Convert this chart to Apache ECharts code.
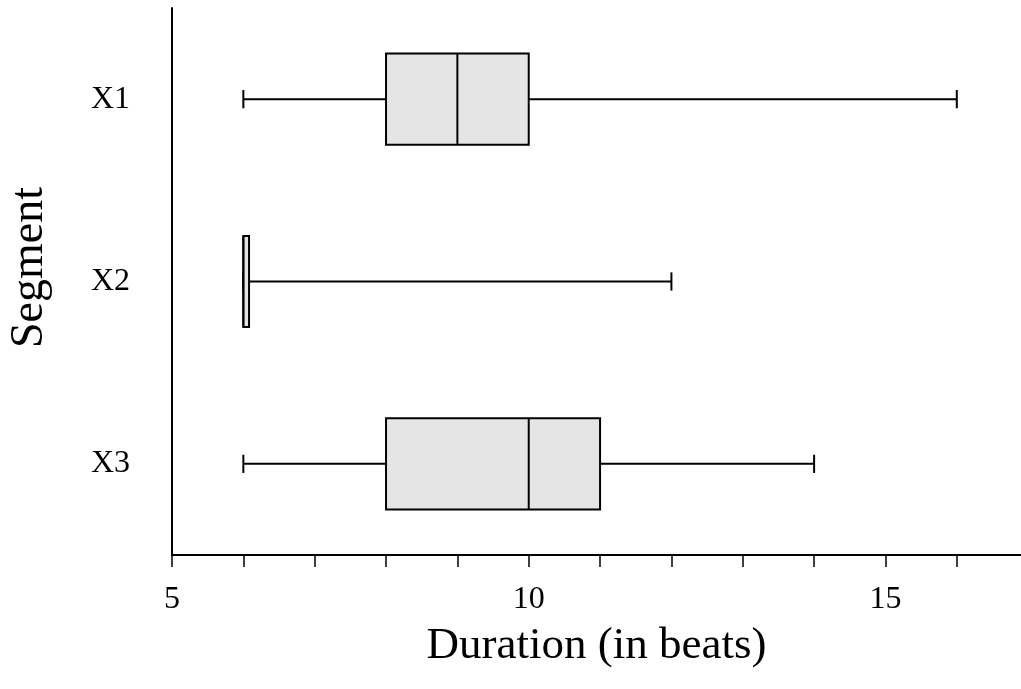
<!DOCTYPE html>
<html>
<head>
<meta charset="utf-8">
<script src="https://cdn.jsdelivr.net/npm/echarts@6/dist/echarts.min.js"></script>
<style>
  html, body { margin: 0; padding: 0; background: #fff; }
  #chart { width: 1021px; height: 689px; }
</style>
</head>
<body>
<div id="chart"></div>
<script>
const segments = ['X1', 'X2', 'X3']
// [min, q1, median, q3, max]
const boxStats = [
  [6, 8, 9, 10, 16],
  [6, 6, 6, 6.08, 12],
  [6, 8, 10, 11, 14]
]
const tickValues = [5, 6, 7, 8, 9, 10, 11, 12, 13, 14, 15, 16]
const labelValues = [5, 10, 15]

const font = 'Liberation Serif'
const chart = echarts.init(document.getElementById('chart'))

const renderBox = (params, api) => {
  const cat = api.value(0)
  const lo = api.coord([api.value(1), cat])
  const q1 = api.coord([api.value(2), cat])
  const med = api.coord([api.value(3), cat])
  const q3 = api.coord([api.value(4), cat])
  const hi = api.coord([api.value(5), cat])
  const band = api.size([0, 1])[1]
  const boxH = band * 0.5
  const capH = band * 0.1
  const y = lo[1]
  const line = { stroke: '#000', lineWidth: 2 }
  return {
    type: 'group',
    children: [
      { type: 'line', shape: { x1: lo[0], y1: y, x2: q1[0], y2: y }, style: line },
      { type: 'line', shape: { x1: q3[0], y1: y, x2: hi[0], y2: y }, style: line },
      { type: 'line', shape: { x1: lo[0], y1: y - capH / 2, x2: lo[0], y2: y + capH / 2 }, style: line },
      { type: 'line', shape: { x1: hi[0], y1: y - capH / 2, x2: hi[0], y2: y + capH / 2 }, style: line },
      {
        type: 'rect',
        shape: { x: q1[0], y: y - boxH / 2, width: q3[0] - q1[0], height: boxH },
        style: { fill: '#e5e5e5', stroke: '#000', lineWidth: 2 }
      },
      { type: 'line', shape: { x1: med[0], y1: y - boxH / 2, x2: med[0], y2: y + boxH / 2 }, style: line }
    ]
  }
}

chart.setOption({
  backgroundColor: '#fff',
  animation: false,
  grid: { left: 172, right: 0, top: 8, bottom: 134, outerBoundsMode: 'none', containLabel: false },
  xAxis: {
    type: 'value',
    min: 5,
    max: 16.9,
    interval: 1,
    name: 'Duration (in beats)',
    nameLocation: 'middle',
    nameGap: 69,
    nameTextStyle: { fontFamily: font, fontSize: 45, color: '#000' },
    axisLine: { show: true, lineStyle: { color: '#000', width: 2 } },
    axisTick: { show: true, length: 12, customValues: tickValues, lineStyle: { color: '#000', width: 1.5 } },
    axisLabel: { customValues: labelValues, margin: 29, fontFamily: font, fontSize: 32, color: '#000' },
    splitLine: { show: false }
  },
  yAxis: {
    type: 'category',
    data: segments,
    inverse: true,
    name: 'Segment',
    nameLocation: 'middle',
    nameGap: 119,
    nameTextStyle: { fontFamily: font, fontSize: 46, color: '#000', padding: [0, 0, 0, 28] },
    axisLine: { show: true, lineStyle: { color: '#000', width: 2 } },
    axisTick: { show: false },
    axisLabel: { margin: 42, fontFamily: font, fontSize: 32, color: '#000' },
    splitLine: { show: false }
  },
  series: [
    {
      type: 'custom',
      renderItem: renderBox,
      encode: { x: [1, 2, 3, 4, 5], y: 0 },
      data: boxStats.map((s, i) => [i, ...s])
    }
  ]
})
</script>
</body>
</html>
